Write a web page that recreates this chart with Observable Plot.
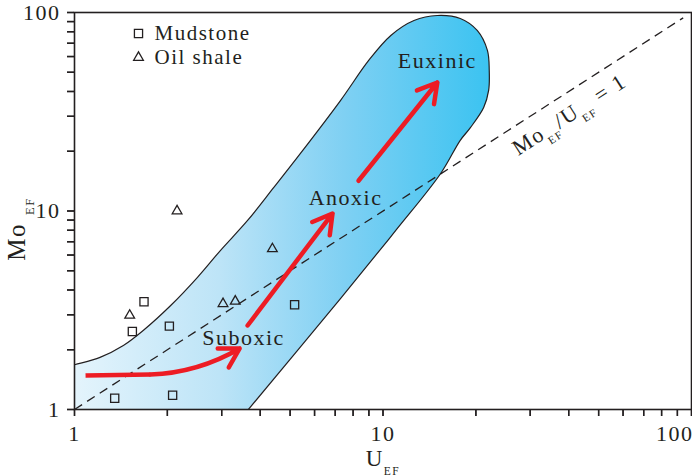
<!DOCTYPE html>
<html><head><meta charset="utf-8">
<script src="https://cdn.jsdelivr.net/npm/d3@7"></script>
<script src="https://cdn.jsdelivr.net/npm/@observablehq/plot@0.6"></script>
<style>
html,body{margin:0;padding:0;background:#fff;}
#chart svg text{letter-spacing:1.5px;}
</style></head>
<body><div id="chart"></div>
<script>
// ---------- data ----------
const mudstoneU  = [1.35, 2.08, 1.54, 1.68, 2.03, 5.17];
const mudstoneMo = [1.14, 1.18, 2.47, 3.49, 2.63, 3.37];
const oilShaleU  = [1.51, 3.03, 3.32, 4.38, 2.15];
const oilShaleMo = [2.98, 3.41, 3.51, 6.45, 10.0];

// outline of the shaded redox field (Mo_EF vs U_EF), clockwise
const regionU  = [0.85, 0.85, 1.00, 1.21, 1.44, 1.67, 2.05, 2.50, 2.97, 3.64, 4.42, 5.40, 7.28, 9.00, 10.6, 12.6, 15.0, 17.8, 20.2, 21.8, 22.1, 22.0, 21.2, 19.2, 17.8, 15.4, 11.0, 7.28, 3.66, 3.36];
const regionMo = [0.85, 1.57, 1.68, 1.83, 2.10, 2.50, 3.34, 4.62, 6.32, 8.96, 13.1, 19.5, 36.0, 57.5, 76.6, 91.1, 96.6, 93.3, 81.2, 64.4, 51.0, 40.5, 33.2, 26.3, 22.7, 15.5, 7.98, 3.62, 1.00, 0.85];

// Mo_EF / U_EF = 1 reference line
const ratioLineU  = [1, 94];
const ratioLineMo = [1, 94];
const ratioLabel  = ["Mo_{EF}/U_{EF} = 1"];
const ratioLabelU = [40.2];
const ratioLabelMo = [30.6];

// redox zones
const zoneNames = ["Suboxic", "Anoxic", "Euxinic"];
const zoneU  = [3.53, 7.56, 15.0];
const zoneMo = [2.28, 11.7, 57.3];

// red trend arrows
const curveU  = [1.086, 1.763];
const curveMo = [1.483, 1.50];
const curveHeadU  = [3.43];
const curveHeadMo = [2.03];
const arrowStartU  = [3.64, 8.33];
const arrowStartMo = [2.65, 14.2];
const arrowEndU    = [6.86, 15.0];
const arrowEndMo   = [9.71, 44.4];

// axes
const tickValues = [1,2,3,4,5,6,7,8,9,10,20,30,40,50,60,70,80,90,100];
const tickLabels = [1, 10, 100];
const xTitle = ["U_{EF}"];
const yTitle = ["Mo_{EF}"];

// legend
const legendNames   = ["Mudstone", "Oil shale"];
const legendSymbols = ["square", "triangle"];

// ---------- layout & style ----------
const W = 692, H = 476, mL = 74, mR = 1, mT = 12, mB = 67;
const tickLen = 7;
const ink = "#231f20";
const red = "#ed1c24";
const serif = "'Liberation Serif', 'Times New Roman', serif";
const symbolR = {square: 4.6, triangle: 3.6};
const fmt = d => tickLabels.includes(d) ? String(d) : "";
const lastTick = tickLabels[tickLabels.length - 1];
const fmtInner = d => d === lastTick ? "" : fmt(d);
const fmtLast = d => d === lastTick ? String(d) : "";
// outward tick ends, expressed in data units (log scales, two decades each)
const pxPerDecX = (W - mL - mR) / 2, pxPerDecY = (H - mT - mB) / 2;
const xTickEnd = 10 ** (-tickLen / pxPerDecX);
const yTickEnd = 10 ** (-tickLen / pxPerDecY);

const plot = Plot.plot({
  width: W, height: H,
  marginLeft: mL, marginRight: mR, marginTop: mT, marginBottom: mB,
  style: {fontFamily: serif, fontSize: "22px", color: ink, background: "white"},
  x: {type: "log", domain: [1, 100]},
  y: {type: "log", domain: [1, 100]},
  marks: [
    Plot.line(d3.range(regionU.length), {
      x: i => regionU[i], y: i => regionMo[i],
      curve: "catmull-rom-closed", fill: "url(#zoneGradient)",
      stroke: ink, strokeWidth: 1.2, clip: true
    }),
    Plot.line(d3.range(ratioLineU.length), {
      x: i => ratioLineU[i], y: i => ratioLineMo[i],
      stroke: ink, strokeWidth: 1.3, strokeDasharray: "9,6", strokeLinecap: "butt"
    }),
    Plot.text(ratioLabel, {x: ratioLabelU, y: ratioLabelMo, text: d => d, rotate: -32.8, fontSize: 22, fill: ink}),
    Plot.dot(mudstoneU.map((u, i) => i), {x: i => mudstoneU[i], y: i => mudstoneMo[i], symbol: "square", r: symbolR.square, stroke: ink, strokeWidth: 1.3, fill: "none"}),
    Plot.dot(oilShaleU.map((u, i) => i), {x: i => oilShaleU[i], y: i => oilShaleMo[i], symbol: "triangle", r: symbolR.triangle, stroke: ink, strokeWidth: 1.3, fill: "none"}),
    // curved suboxic arrow: straight lead-in + bent arrow
    Plot.line(d3.range(curveU.length), {x: i => curveU[i], y: i => curveMo[i], stroke: red, strokeWidth: 4.5, strokeLinecap: "butt"}),
    Plot.arrow([0], {x1: curveU[curveU.length-1], y1: curveMo[curveMo.length-1], x2: curveHeadU[0], y2: curveHeadMo[0], bend: -14, stroke: red, strokeWidth: 4.5, headLength: 7.3, headAngle: 60}),
    Plot.arrow(d3.range(arrowStartU.length), {
      x1: i => arrowStartU[i], y1: i => arrowStartMo[i], x2: i => arrowEndU[i], y2: i => arrowEndMo[i],
      stroke: red, strokeWidth: 4.5, headLength: 7.3, headAngle: 60
    }),
    Plot.text(zoneNames, {x: zoneU, y: zoneMo, text: d => d, fontSize: 22, fill: ink}),
    ...legendNames.flatMap((name, i) => [
      Plot.dot([name], {frameAnchor: "top-left", dx: 64, dy: 21 + 24 * i, symbol: legendSymbols[i], r: symbolR[legendSymbols[i]], stroke: ink, strokeWidth: 1.3, fill: "none"}),
      Plot.text([name], {frameAnchor: "top-left", dx: 80, dy: 21 + 24 * i, text: d => d, textAnchor: "start", lineAnchor: "middle", fontSize: 21, fill: ink})
    ]),
    // tick marks (outward)
    Plot.ruleX(tickValues, {x: d => d, y1: 1, y2: yTickEnd, stroke: ink, strokeWidth: 1.4}),
    Plot.ruleY(tickValues, {y: d => d, x1: 1, x2: xTickEnd, stroke: ink, strokeWidth: 1.4}),
    Plot.axisX({ticks: tickValues, tickFormat: fmtInner, tickSize: tickLen, tickPadding: 9, strokeWidth: 1.4, fontSize: 22, label: null}),
    Plot.axisX({ticks: [lastTick], tickFormat: fmtLast, tickSize: tickLen, tickPadding: 9, strokeWidth: 1.4, fontSize: 22, textAnchor: "end", dx: 2, label: null}),
    Plot.axisY({ticks: tickValues, tickFormat: fmt, tickSize: tickLen, tickPadding: 7, strokeWidth: 1.4, fontSize: 22, label: null}),
    Plot.frame({stroke: ink, strokeWidth: 1.6}),
    Plot.text(xTitle, {frameAnchor: "bottom", dy: 49, textAnchor: "middle", lineAnchor: "middle", text: d => d, fontSize: 23, fill: ink}),
    Plot.text(yTitle, {frameAnchor: "left", dx: -58, dy: 18, rotate: -90, textAnchor: "middle", lineAnchor: "middle", text: d => d, fontSize: 25, fill: ink})
  ]
});

document.getElementById("chart").appendChild(plot);

// gradient for the shaded field
const xs = plot.scale("x");
const grad = d3.select(plot).insert("defs", ":first-child")
  .append("linearGradient").attr("id", "zoneGradient")
  .attr("gradientUnits", "userSpaceOnUse")
  .attr("x1", xs.apply(1)).attr("x2", xs.apply(22.1)).attr("y1", 0).attr("y2", 0);
[[0, "#e4f4fc"], [0.35, "#bde4f7"], [0.65, "#7fd0f3"], [1, "#3bc3f1"]].forEach(([o, c]) =>
  grad.append("stop").attr("offset", o).attr("stop-color", c));

// subscripts: "_{...}" → lowered small tspan
d3.select(plot).selectAll("text").each(function() {
  const t = this.textContent;
  if (!t.includes("_{")) return;
  const base = parseFloat(getComputedStyle(this).fontSize) || 21;
  const shift = base * 0.38;
  const gap = t === yTitle[0] ? 8 : 0;
  const parts = t.split(/_\{([^}]*)\}/);
  const sel = d3.select(this);
  sel.text(null);
  let lowered = false;
  parts.forEach((p, i) => {
    if (!p) return;
    const sp = sel.append("tspan").text(p);
    if (i % 2) {
      sp.attr("font-size", base * 0.5).attr("dy", lowered ? 0 : shift);
      if (gap) sp.attr("dx", gap);
      lowered = true;
    } else {
      if (lowered) sp.attr("dy", -shift);
      lowered = false;
    }
  });
});
</script></body></html>
